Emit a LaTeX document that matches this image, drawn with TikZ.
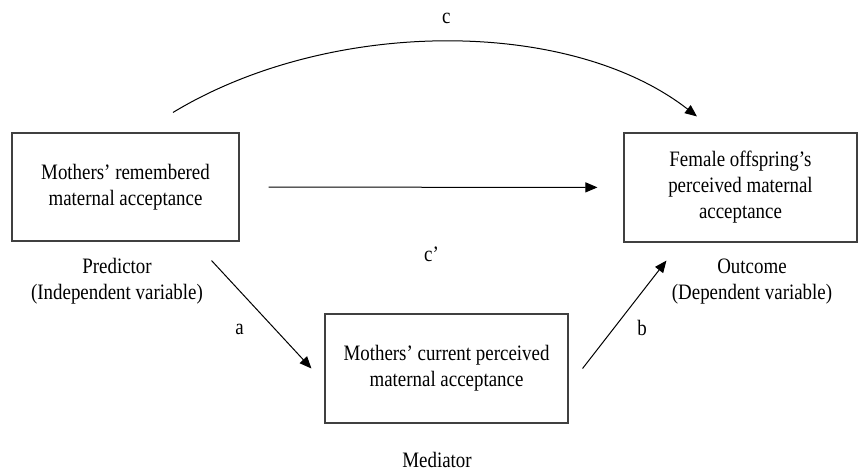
\documentclass[tikz,border=0pt]{standalone}
\usepackage{fontspec}
\setmainfont{Liberation Serif}[FakeStretch=0.86]
\usetikzlibrary{arrows.meta,positioning}

\begin{document}
\begin{tikzpicture}[
  x=0.5pt, y=-0.5pt,
  font=\fontsize{11}{13}\selectfont, >={Triangle[length=6pt,width=5pt]},
  varbox/.style={draw=black!75, line width=0.55pt, align=center, inner sep=0pt},
  role/.style={align=center, inner sep=0pt},
  effect/.style={->, line width=0.5pt},
  coef/.style={inner sep=1pt}
]
\useasboundingbox (0,0) rectangle (858,473);
\node[varbox, minimum width=113.5pt, minimum height=54pt] (pred) at (125.5,187) {Mothers' remembered\\maternal acceptance};
\node[varbox, minimum width=116.5pt, minimum height=54.5pt] (outc) at (740.5,187.5) {Female offspring's\\perceived maternal\\acceptance};
\node[varbox, minimum width=121.5pt, minimum height=54.5pt] (med) at (446.5,368.5) {Mothers' current perceived\\maternal acceptance};

\node[role, below=8pt of pred, xshift=-4.25pt] (predrole) {Predictor\\(Independent variable)};
\node[role, below=8pt of outc, xshift=5.75pt] (outcrole) {Outcome\\(Dependent variable)};
\node[role, below=14pt of med, xshift=-4.75pt] (medrole) {Mediator};

% total effect
\draw[effect] ([shift={(47.5,-20)}]pred.north) .. controls +(157,-95) and +(-127,-99) .. ([shift={(-43.5,-16)}]outc.north)
  node[coef, midway, above=7.5pt] {c};
% direct effect
\draw[effect, shorten <=14.5pt, shorten >=13pt] (pred) -- node[coef, below=28.5pt] {c'} (outc);
% indirect paths
\draw[effect] ([shift={(-28,19)}]pred.south east) -- node[coef, below left=3.4pt and 7.6pt] {a} ([shift={(-13,0)}]med.west);
\draw[effect] ([shift={(14,0)}]med.east) -- node[coef, below right=1.8pt and 5.2pt] {b} ([shift={(43,18)}]outc.south west);
\end{tikzpicture}
\end{document}
